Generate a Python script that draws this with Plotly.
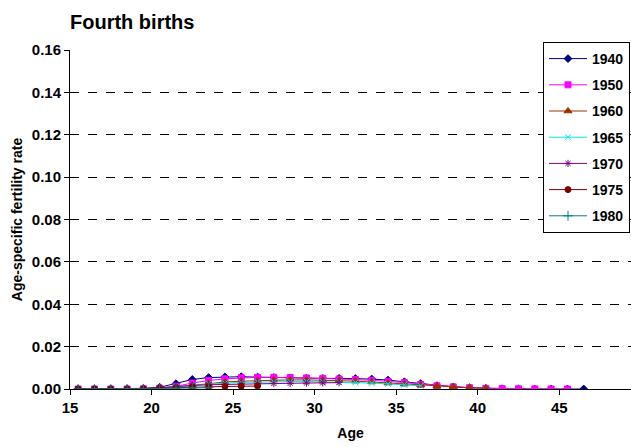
import plotly.graph_objects as go

# Mid-point ages (single-year age groups)
ages_1940 = [a + 0.5 for a in range(15, 47)]
rate_1940 = [0, 0, 0, 0.0001, 0.0003, 0.0008, 0.0025, 0.0045, 0.0054, 0.0057, 0.0058, 0.0056,
             0.0054, 0.0052, 0.0051, 0.0050, 0.0050, 0.0049, 0.0047, 0.0042, 0.0034, 0.0025,
             0.0016, 0.0010, 0.0006, 0.0003, 0.0001, 0.00005, 0, 0, 0, 0]

ages_1950 = [a + 0.5 for a in range(15, 46)]
rate_1950 = [0, 0, 0, 0, 0.0001, 0.0004, 0.0013, 0.0028, 0.0040, 0.0048, 0.0053, 0.0055,
             0.0055, 0.0054, 0.0052, 0.0050, 0.0047, 0.0045, 0.0041, 0.0036, 0.0030, 0.0022,
             0.0015, 0.0010, 0.0006, 0.0003, 0.0002, 0.0001, 0.00005, 0, 0]

ages_1960 = [a + 0.5 for a in range(15, 42)]
rate_1960 = [0, 0, 0, 0, 0.0001, 0.0003, 0.0009, 0.0018, 0.0027, 0.0033, 0.0037, 0.0040,
             0.0042, 0.0043, 0.0043, 0.0042, 0.0040, 0.0037, 0.0033, 0.0028, 0.0023, 0.0019,
             0.0013, 0.0010, 0.0006, 0.0003]

ages_1965 = [a + 0.5 for a in range(15, 37)]
rate_1965 = [0, 0, 0, 0, 0.0001, 0.0004, 0.0010, 0.0018, 0.0024, 0.0028, 0.0031, 0.0033,
             0.0034, 0.0035, 0.0035, 0.0034, 0.0033, 0.0031, 0.0028, 0.0024, 0.0020, 0.0015]

ages_1970 = [a + 0.5 for a in range(15, 32)]
rate_1970 = [0, 0, 0, 0, 0.0002, 0.0006, 0.0012, 0.0017, 0.0020, 0.0022, 0.0024, 0.0025,
             0.0026, 0.0027, 0.0028, 0.0029, 0.0030]

ages_1975 = [a + 0.5 for a in range(15, 27)]
rate_1975 = [0, 0, 0, 0, 0.0001, 0.0003, 0.0006, 0.0009, 0.0011, 0.0012, 0.0013, 0.0014]

ages_1980 = [a + 0.5 for a in range(15, 24)]
rate_1980 = [0, 0, 0, 0, 0.0001, 0.0002, 0.0004, 0.0005, 0.0006]

series = [
    ("1940", ages_1940, rate_1940, "#000080", "diamond", 6),
    ("1950", ages_1950, rate_1950, "#FF00FF", "square", 6),
    ("1960", ages_1960, rate_1960, "#993300", "triangle-up", 7),
    ("1965", ages_1965, rate_1965, "#00E5E5", "x-thin-open", 6),
    ("1970", ages_1970, rate_1970, "#800080", "asterisk-open", 6),
    ("1975", ages_1975, rate_1975, "#800000", "circle", 6),
    ("1980", ages_1980, rate_1980, "#008080", "cross-thin-open", 7),
]

x_ticks = [15, 20, 25, 30, 35, 40, 45]
y_ticks = [0.00, 0.02, 0.04, 0.06, 0.08, 0.10, 0.12, 0.14, 0.16]

fig = go.Figure()
for name, xs, ys, col, sym, sz in series:
    fig.add_trace(go.Scatter(
        x=xs, y=ys, name=name, mode="lines+markers", legendgroup=name,
        line=dict(color=col, width=1),
        marker=dict(symbol=sym, size=sz, color=col, line=dict(color=col, width=1)),
    ))

font = "Liberation Sans, Arial, sans-serif"
fig.update_layout(
    width=631, height=447,
    margin=dict(l=70, r=0, t=50, b=58, autoexpand=False),
    paper_bgcolor="white", plot_bgcolor="white",
    font=dict(family=font, size=14, color="black"),
    title=dict(text="<b>Fourth births</b>", x=70 / 631, xanchor="left",
               y=1 - 22 / 447, yanchor="middle", font=dict(size=20, family=font)),
    showlegend=True,
    legend=dict(x=(543 - 70) / 561, y=(389 - 42) / 339, xanchor="left", yanchor="top",
                bgcolor="white", bordercolor="black", borderwidth=1,
                font=dict(size=14, family=font, weight="bold"),
                tracegroupgap=5, itemwidth=38),
    xaxis=dict(range=[15, 49.4], tickvals=x_ticks, ticktext=[str(v) for v in x_ticks],
               showgrid=False, zeroline=False, showline=True, linecolor="black",
               linewidth=1, ticks="outside", ticklen=5, tickcolor="black", automargin=False,
               tickfont=dict(size=15, family=font, weight="bold"),
               title=dict(text="<b>Age</b>", font=dict(size=14, family=font), standoff=13)),
    yaxis=dict(range=[0, 0.16], tickvals=y_ticks, tickformat=".2f", automargin=False,
               showgrid=True, gridcolor="black", griddash="dash", gridwidth=1,
               zeroline=False, showline=True, linecolor="black", linewidth=1,
               ticks="outside", ticklen=5, tickcolor="black",
               tickfont=dict(size=15, family=font, weight="bold"),
               title=dict(text="<b>Age-specific fertility rate</b>",
                          font=dict(size=14, family=font), standoff=5)),
)

fig.write_html("out.html", config={"displayModeBar": False},
               post_script="document.body.style.margin='0';")
